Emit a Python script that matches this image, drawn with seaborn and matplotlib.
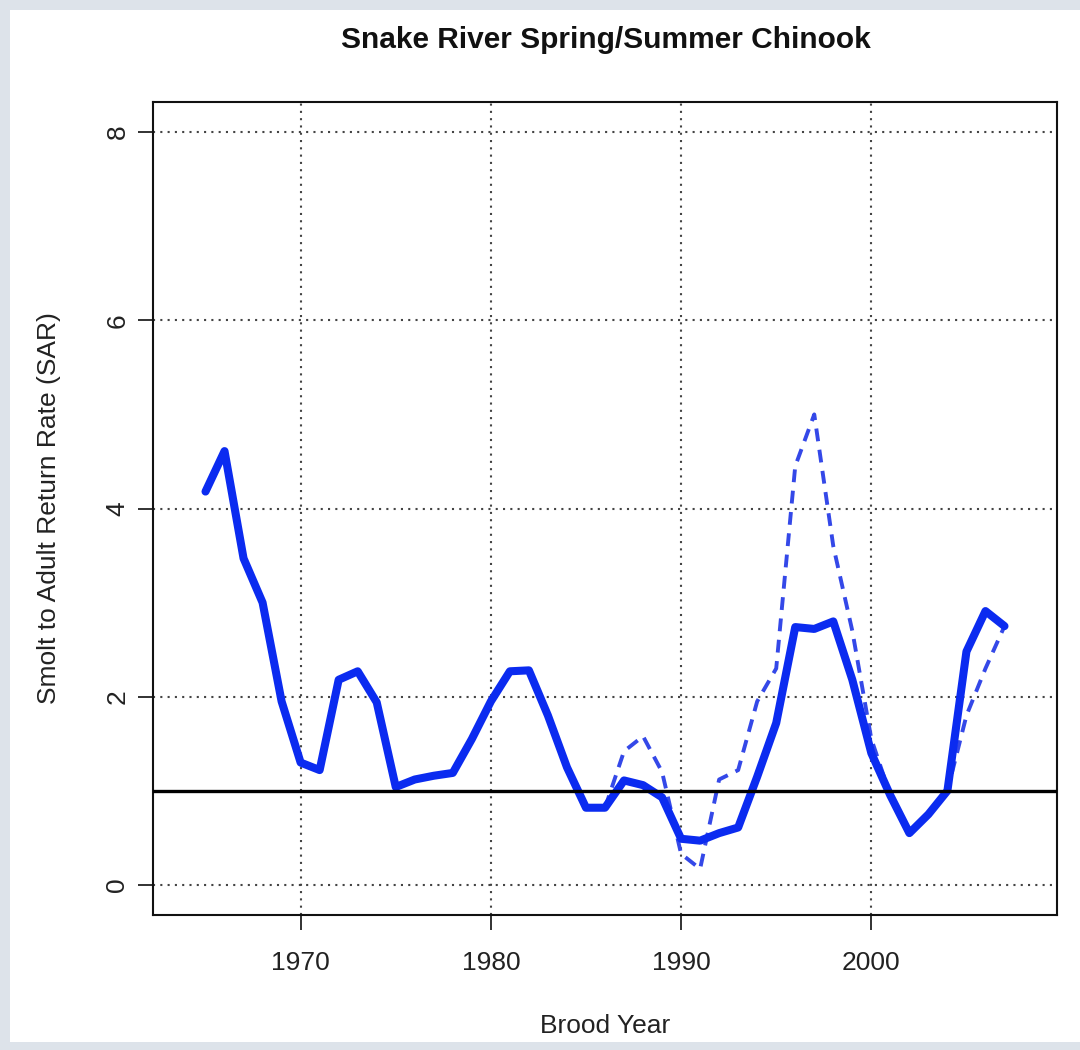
import numpy as np
import pandas as pd
import matplotlib
matplotlib.use("Agg")
import matplotlib.pyplot as plt
import seaborn as sns
from matplotlib.patches import Rectangle

# SAR values
years = list(range(1965, 2008))
sar_main = [4.18, 4.61, 3.47, 3.00, 1.95, 1.30, 1.22, 2.18, 2.27, 1.94,
            1.04, 1.12, 1.16, 1.19, 1.55, 1.95, 2.27, 2.28, 1.80, 1.25,
            0.82, 0.82, 1.11, 1.06, 0.93, 0.49, 0.47, 0.55, 0.61, 1.15,
            1.72, 2.74, 2.72, 2.80, 2.18, 1.40, 0.95, 0.55, 0.75, 1.00,
            2.48, 2.91, 2.75]

years_alt = list(range(1986, 2008))
sar_alt = [0.82, 1.42, 1.58, 1.20, 0.33, 0.17, 1.12, 1.22, 1.95, 2.30,
           4.45, 5.00, 3.60, 2.70, 1.55, 0.95, 0.55, 0.75, 1.00, 1.80,
           2.30, 2.75]

reference_sar = 1.0
title = "Snake River Spring/Summer Chinook"

main_df = pd.DataFrame({"year": years, "sar": sar_main})
alt_df = pd.DataFrame({"year": years_alt, "sar": sar_alt})

sns.set_style("ticks")
plt.rcParams["font.family"] = ["Liberation Sans", "DejaVu Sans"]

fig = plt.figure(figsize=(10.8, 10.5), dpi=100)
fig.patch.set_facecolor("#dde3ea")
fig.patches.append(Rectangle((10 / 1080, 8 / 1050), 1 - 10 / 1080, 1 - 18 / 1050,
                             transform=fig.transFigure, facecolor="white",
                             edgecolor="none", zorder=-10))
ax = fig.add_axes([153 / 1080, 1 - 915 / 1050, (1057 - 153) / 1080, (915 - 102) / 1050])

sns.lineplot(data=alt_df, x="year", y="sar", ax=ax, color="#3448e8", linewidth=2.8,
             linestyle=(0, (3.3, 2.2)), zorder=3)
sns.lineplot(data=main_df, x="year", y="sar", ax=ax, color="#0b2bf0", linewidth=5.8,
             zorder=4)
ax.axhline(reference_sar, color="black", linewidth=2.4, zorder=5)

ax.set_xlim(1962.24, 2009.76)
ax.set_ylim(-0.32, 8.32)
ax.set_xticks([1970, 1980, 1990, 2000])
ax.set_yticks([0, 2, 4, 6, 8])
ax.grid(True, linestyle=(0, (1, 2.5)), color="#444444", linewidth=1.5)

for label in ax.get_yticklabels():
    label.set_rotation(90)
    label.set_va("center")
ax.tick_params(axis="x", pad=15)
ax.tick_params(axis="y", pad=6)
ax.tick_params(axis="both", labelsize=19, length=11, width=1.3, color="#222222",
               labelcolor="#222222")
for s in ax.spines.values():
    s.set_linewidth(1.5)
    s.set_color("#111111")

ax.set_xlabel("Brood Year", fontsize=19, color="#222222", labelpad=28)
ax.set_ylabel("Smolt to Adult Return Rate (SAR)", fontsize=19, color="#222222",
              labelpad=32)
fig.text(606 / 1080, 1 - 40 / 1050, title, ha="center", va="center",
         fontsize=21.5, fontweight="bold", color="#111111")

fig.savefig("out.png", dpi=100)
